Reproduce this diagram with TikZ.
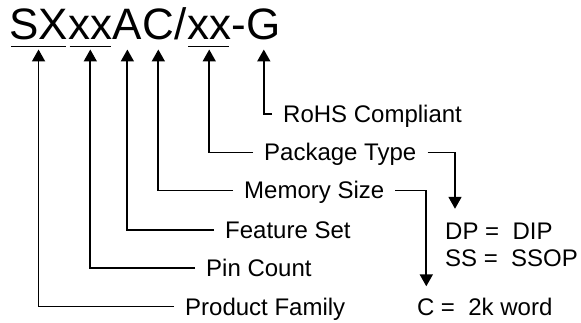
\documentclass[tikz,border=0pt]{standalone}
\usepackage{fontspec}
\setmainfont{Liberation Sans}
\usetikzlibrary{arrows.meta}
\begin{document}
\begin{tikzpicture}[x=1pt,y=-1pt,
  conn/.style={line width=1.8pt},
  arr/.style={conn,-{Triangle[length=12pt,width=13pt]}},
  uline/.style={line width=1.8pt},
  tpart/.style={inner sep=0pt, anchor=base west, font=\fontsize{44}{44}\selectfont},
  lbl/.style={anchor=west, inner xsep=11pt, inner ysep=0pt, text height=17pt, text depth=0pt, font=\fontsize{24}{24}\selectfont},
  code/.style={anchor=base west, inner sep=0pt, text height=17pt, text depth=0pt, font=\fontsize{24}{24}\selectfont}]
\useasboundingbox (0,0) rectangle (581,323);
% part number
\node[tpart] (sx) at (9,39.5) {SX};
\node[tpart] (xa) at (sx.base east) {xx};
\node[tpart] (a) at (xa.base east) {A};
\node[tpart] (c) at (a.base east) {C};
\node[tpart] (sl) at (c.base east) {/};
\node[tpart] (xb) at (sl.base east) {xx};
\node[tpart] (dash) at (xb.base east) {-};
\node[tpart] (g) at (dash.base east) {G};
% underlines
\draw[uline] ([xshift=2pt,yshift=-7pt]sx.base west) -- ([xshift=-2pt,yshift=-7pt]sx.base east);
\draw[uline] ([xshift=1.5pt,yshift=-7pt]xa.base west) -- ([xshift=-1pt,yshift=-7pt]xa.base east);
\draw[uline] ([xshift=1pt,yshift=-7pt]xb.base west) -- ([xshift=-2pt,yshift=-7pt]xb.base east);
% labels
\node[lbl] (rohs) at (272,114) {RoHS Compliant};
\node[lbl] (pkg) at (253,152.5) {Package Type};
\node[lbl] (mem) at (233,190.5) {Memory Size};
\node[lbl] (feat) at (214,230) {Feature Set};
\node[lbl] (pin) at (195,268) {Pin Count};
\node[lbl] (pf) at (174,306.5) {Product Family};
% codes
\node[code] (dp) at (445,240) {DP =\ \ DIP};
\node[code] (ss) at (445,266) {SS =\ \ SSOP};
\node[code] (cw) at (416.8,315.5) {C =\ \ 2k word};
% connectors
\draw[arr] (rohs.west) -| ([yshift=-10pt]g.base);
\draw[arr] (pkg.west) -| ([yshift=-10pt]xb.base);
\draw[arr] (mem.west) -| ([yshift=-10pt]c.base);
\draw[arr] (feat.west) -| ([yshift=-10pt]a.base);
\draw[arr] (pin.west) -| ([yshift=-10pt]xa.base);
\draw[arr] (pf.west) -| ([yshift=-10pt]sx.base);
\draw[arr] (pkg.east) -| ([xshift=10pt,yshift=14pt]dp.north west);
\draw[arr] (mem.east) -| ([xshift=9.5pt,yshift=12pt]cw.north west);
\end{tikzpicture}
\end{document}
